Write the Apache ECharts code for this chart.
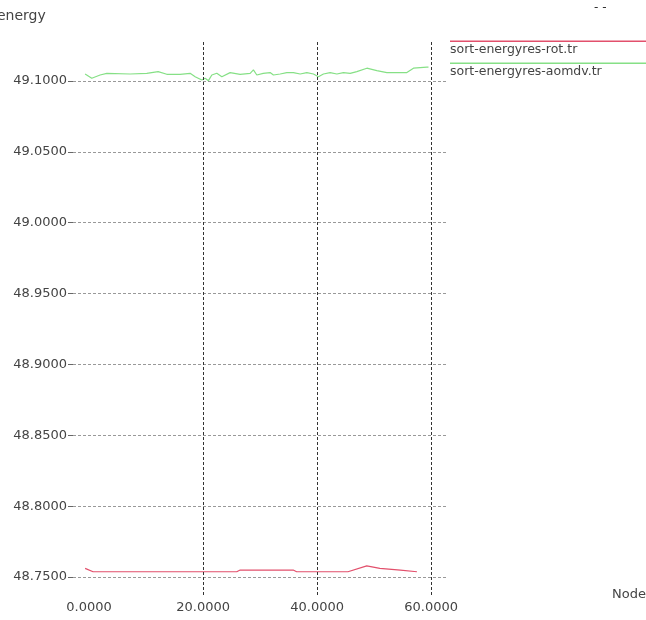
<!DOCTYPE html>
<html>
<head>
<meta charset="utf-8">
<script src="https://cdn.jsdelivr.net/npm/echarts@6/dist/echarts.min.js"></script>
<style>
html,body{margin:0;padding:0;background:#fff;}
#chart{width:646px;height:620px;}
</style>
</head>
<body>
<div id="chart"></div>
<script>
// ---- data ----
const seriesNames = ['sort-energyres-rot.tr', 'sort-energyres-aomdv.tr'];
const xLabel = 'Node';
const yLabel = 'energy';
const xTicks = [0, 20, 40, 60];
const xGridLines = [20, 40, 60];
const yTicks = [48.75, 48.80, 48.85, 48.90, 48.95, 49.00, 49.05, 49.10];
const xMin = -3.7, xMax = 62.6;
const yMin = 48.7373, yMax = 49.1289;

const rotX = [-0.7, 0.7, 5, 10, 15, 20, 25.9, 26.5, 30, 35.8, 36.4, 40, 45.4, 48.7, 51.0, 54.6, 57.5];
const rotY = [48.7561, 48.7537, 48.7537, 48.7537, 48.7537, 48.7537, 48.7537, 48.7549, 48.7549, 48.7549, 48.7537, 48.7537, 48.7537, 48.7578, 48.7561, 48.7549, 48.7537];

const aomdvX = [-0.7, 0.47, 1.93, 3.11, 7.19, 10.12, 12.11, 13.63, 15.96, 17.72, 18.60, 19.77, 20.35, 20.93, 21.53, 22.40, 23.28, 24.74, 26.49, 28.25, 28.82, 29.42, 30.53, 31.75, 32.33, 33.51, 34.68, 35.84, 37.02, 38.19, 39.35, 40.23, 41.1, 42.28, 43.46, 44.61, 45.79, 46.96, 48.72, 50.47, 52.23, 54.56, 55.74, 56.89, 59.25, 59.53];
const aomdvY = [49.1049, 49.1019, 49.1042, 49.1054, 49.1049, 49.1054, 49.1066, 49.1047, 49.1047, 49.1054, 49.1030, 49.1007, 49.1019, 49.1002, 49.1042, 49.1054, 49.1030, 49.1059, 49.1047, 49.1054, 49.1078, 49.1042, 49.1054, 49.1059, 49.1042, 49.1049, 49.1059, 49.1059, 49.1049, 49.1059, 49.1049, 49.1030, 49.1049, 49.1059, 49.1049, 49.1059, 49.1054, 49.1066, 49.1090, 49.1073, 49.1059, 49.1059, 49.1059, 49.1090, 49.1097, 49.1097];

const colors = ['#e2506c', '#86e086'];

const pair = (xs, ys) => xs.map((x, i) => [x, ys[i]]);

const chart = echarts.init(document.getElementById('chart'), null, {renderer: 'canvas'});
const FONT = 'DejaVu Sans';
const vLines = xGridLines.map(v => [
  {coord: [v, yMin], lineStyle: {color: '#333', type: [3, 2], width: 1}},
  {coord: [v, yMax]}
]);
chart.setOption({
  animation: false,
  backgroundColor: '#fff',
  grid: {left: 68, right: 200, top: 40, bottom: 25, containLabel: false},
  xAxis: {
    type: 'value', min: xMin, max: xMax,
    axisLine: {show: false, onZero: false},
    axisTick: {show: false},
    splitLine: {show: false},
    axisLabel: {
      customValues: xTicks, margin: 6, color: '#444', fontFamily: FONT, fontSize: 13,
      formatter: v => v.toFixed(4)
    }
  },
  yAxis: {
    type: 'value', min: yMin, max: yMax,
    axisLine: {show: false, onZero: false},
    axisTick: {show: true, inside: true, length: 5, customValues: yTicks, lineStyle: {color: '#666'}},
    splitLine: {show: true, lineStyle: {color: '#999', type: [3, 2], width: 1}},
    axisLabel: {
      customValues: yTicks, margin: 1, color: '#444', fontFamily: FONT, fontSize: 13,
      formatter: v => v.toFixed(4)
    }
  },
  series: [
    {
      name: 'grid', type: 'line', data: [], silent: true,
      markLine: {
        silent: true, symbol: 'none', animation: false,
        label: {show: false},
        data: vLines
      }
    },
    {
      name: seriesNames[0], type: 'line', data: pair(rotX, rotY), showSymbol: false,
      lineStyle: {color: colors[0], width: 1.2}, itemStyle: {color: colors[0]}, clip: false
    },
    {
      name: seriesNames[1], type: 'line', data: pair(aomdvX, aomdvY), showSymbol: false,
      lineStyle: {color: colors[1], width: 1.2}, itemStyle: {color: colors[1]}, clip: false
    }
  ],
  graphic: [
    {type: 'text', left: -3, top: 9, style: {text: yLabel, fontFamily: FONT, fontSize: 14, fill: '#444'}},
    {type: 'text', left: 612, top: 588, style: {text: xLabel, fontFamily: FONT, fontSize: 13, fill: '#444'}},
    {type: 'text', left: 594, top: 2, style: {text: '- -', fontFamily: FONT, fontSize: 12, fill: '#333'}},
    {type: 'rect', shape: {x: 450, y: 40.5, width: 196, height: 1.5}, style: {fill: colors[0]}},
    {type: 'text', left: 450, top: 43, style: {text: seriesNames[0], fontFamily: FONT, fontSize: 12.5, fill: '#444'}},
    {type: 'rect', shape: {x: 450, y: 62.5, width: 196, height: 1.5}, style: {fill: colors[1]}},
    {type: 'text', left: 450, top: 65, style: {text: seriesNames[1], fontFamily: FONT, fontSize: 12.5, fill: '#444'}}
  ]
});
</script>
</body>
</html>
